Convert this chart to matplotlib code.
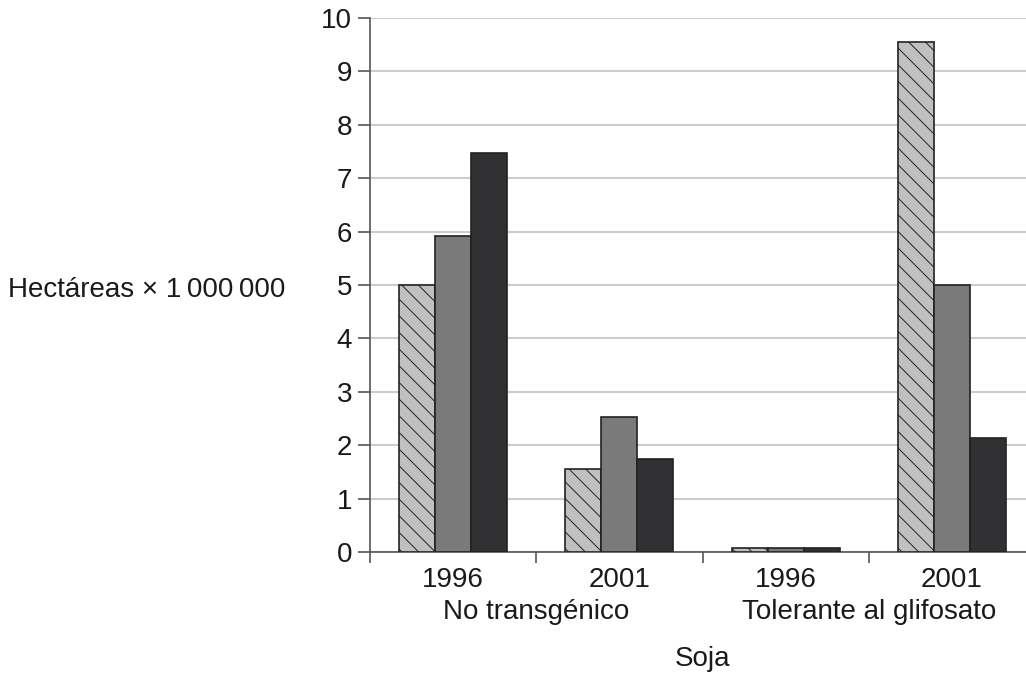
import numpy as np
import matplotlib
matplotlib.use('Agg')
import matplotlib.pyplot as plt
import matplotlib.transforms as mtransforms

years = ['1996', '2001', '1996', '2001']
groups = ['No transgénico', 'Tolerante al glifosato']
serie_a = [5.0, 1.55, 0.08, 9.55]
serie_b = [5.92, 2.52, 0.08, 5.0]
serie_c = [7.48, 1.75, 0.08, 2.13]


def run():
    plt.rcParams['font.family'] = ['Liberation Sans', 'DejaVu Sans']
    plt.rcParams['hatch.linewidth'] = 0.7
    plt.rcParams['hatch.color'] = '#5a5a5a'

    fig = plt.figure(figsize=(10.26, 6.82), dpi=100)
    ax = fig.add_axes([370 / 1026, 130 / 682, 665 / 1026, 534 / 682])

    x = np.arange(len(years))
    w = 0.217
    ax.bar(x - w, serie_a, w, color='#c0c0c0', edgecolor='#222222',
           linewidth=1.2, hatch='\\\\', zorder=3)
    ax.bar(x, serie_b, w, color='#7a7a7a', edgecolor='#222222',
           linewidth=1.2, zorder=3)
    ax.bar(x + w, serie_c, w, color='#313033', edgecolor='#222222',
           linewidth=1.2, zorder=3)

    ax.set_xlim(-0.5, 3.5)
    ax.set_ylim(0, 10)
    ax.set_yticks(range(0, 11))
    ax.yaxis.grid(True, color='#cccccc', linewidth=1.5, zorder=0)
    ax.set_axisbelow(True)

    ax.set_xticks(np.arange(-0.5, 3.6, 1.0))
    ax.set_xticklabels([])
    ax.tick_params(axis='x', which='major', length=8, width=1.2,
                   color='#555555', direction='out')
    ax.tick_params(axis='y', length=9, width=1.2, color='#555555',
                   labelsize=20, pad=4, labelcolor='#1a1a1a')

    for s in ['top', 'right']:
        ax.spines[s].set_visible(False)
    for s in ['left', 'bottom']:
        ax.spines[s].set_color('#555555')
        ax.spines[s].set_linewidth(1.2)

    trans = mtransforms.blended_transform_factory(ax.transData, fig.transFigure)
    for i, yr in enumerate(years):
        ax.text(x[i], 1 - 580 / 682, yr, transform=trans, ha='center',
                va='center', fontsize=20, color='#1a1a1a')
    for j, g in enumerate(groups):
        ax.text(2 * j + 0.5, 1 - 612 / 682, g, transform=trans, ha='center',
                va='center', fontsize=20, color='#1a1a1a')
    ax.text(1.5, 1 - 659 / 682, 'Soja', transform=trans, ha='center',
            va='center', fontsize=20, color='#1a1a1a')

    fig.text(8 / 1026, 1 - 290 / 682, 'Hectáreas \u00d7 1\u2009000\u2009000',
             ha='left', va='center', fontsize=20, color='#1a1a1a')

    plt.savefig('out.png', dpi=100)
    plt.close()


if __name__ == '__main__':
    run()
